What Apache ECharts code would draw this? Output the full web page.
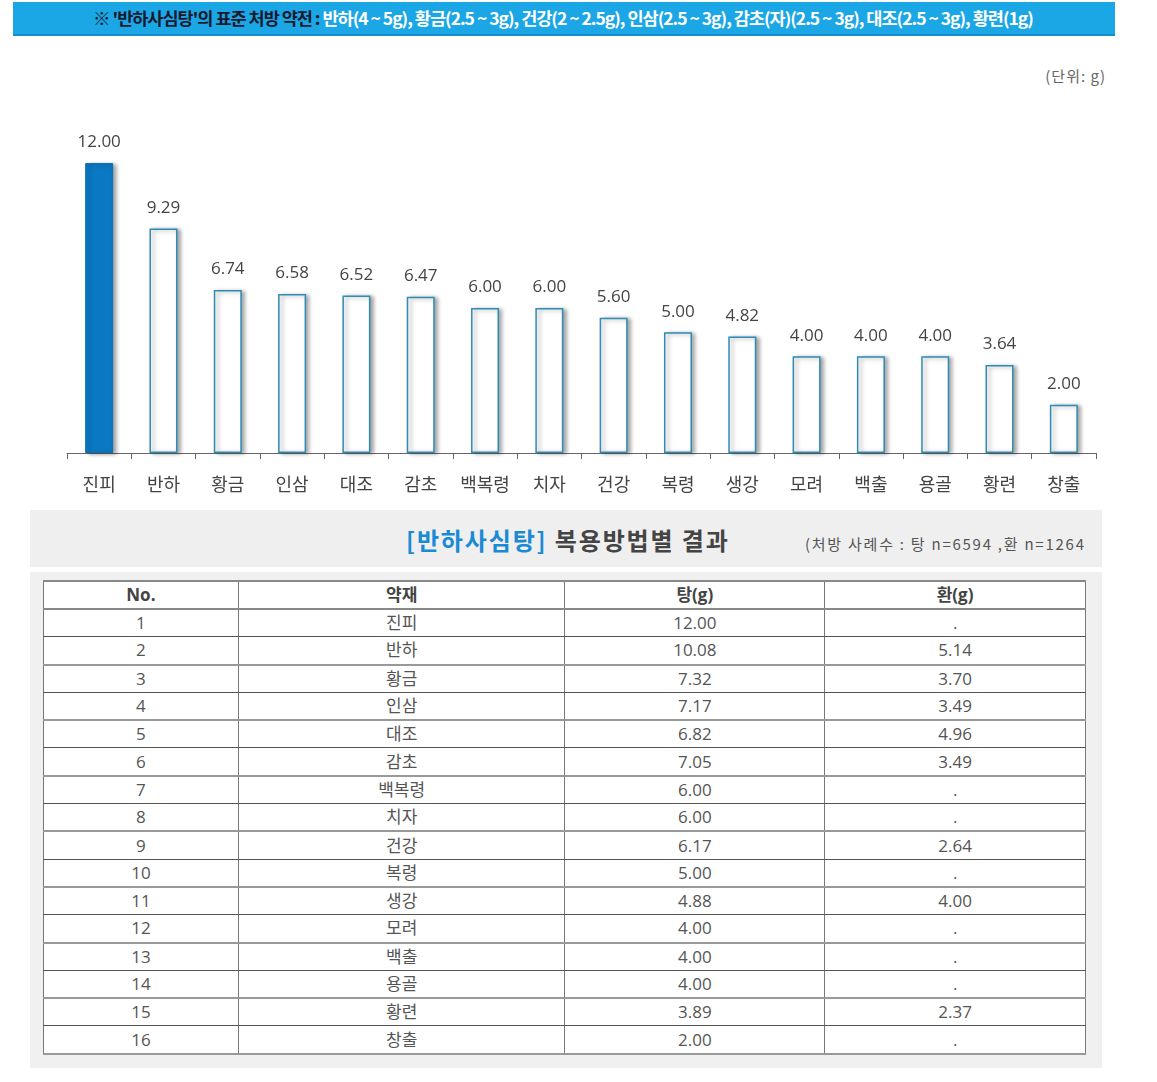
<!DOCTYPE html>
<html>
<head>
<meta charset="utf-8">
<script src="https://cdn.jsdelivr.net/npm/echarts@6/dist/echarts.min.js"></script>
<style>
  html, body { margin:0; padding:0; background:#fff; width:1157px; height:1082px; overflow:hidden;
    font-family:"Open Sans","Noto Sans CJK KR",sans-serif; }
  #banner { position:absolute; left:13px; top:2px; width:1102px; height:34px; background:#1ba6e5;
    border-bottom:2px solid #1590cc; box-sizing:border-box; }
  #bannerText { position:absolute; left:80px; top:6px; white-space:nowrap; font-family:"Noto Sans CJK KR",sans-serif;
    font-weight:bold; font-size:17px; line-height:20px; color:#fff; transform-origin:0 0; letter-spacing:-1px; display:inline-block; }
  #bannerText .dark { color:#1a1a2e; }
  #unit { position:absolute; right:51px; top:65px; font-size:15px; letter-spacing:1px; color:#666; font-family:"Noto Sans CJK KR",sans-serif; }
  #chart { position:absolute; left:0; top:100px; width:1157px; height:405px; }
  #titleBand { position:absolute; left:30px; top:510px; width:1072px; height:57px; background:#efefef; }
  #title { position:absolute; left:376px; top:12px; font-family:"Noto Sans CJK KR",sans-serif; font-weight:bold;
    font-size:24px; color:#444; white-space:nowrap; letter-spacing:1.85px; }
  #title .blue { color:#1a8ad4; }
  #sub { position:absolute; left:775px; top:23px; font-family:"Noto Sans CJK KR",sans-serif; font-size:15px; letter-spacing:1.75px; color:#555; white-space:nowrap; }
  #tablePanel { position:absolute; left:30px; top:572px; width:1072px; height:496px; background:#f0f0f0; }
  table { position:absolute; left:13px; top:8px; width:1043px; border-collapse:collapse; background:#fff;
    font-family:"Open Sans","Noto Sans CJK KR",sans-serif; }
  th, td { height:26.3px; padding:0; text-align:center; border-left:1px solid #777; border-right:1px solid #777;
    border-bottom:1px solid #555; font-size:17px; color:#555; line-height:18px; }
  th { font-weight:bold; font-size:17px; color:#444; border-top:2px solid #888; border-bottom:2px solid #888; height:26px; }
  td { font-weight:normal; }
  tr.alt td { border-bottom:2px solid #999; }
</style>
</head>
<body>
<div id="banner"><div id="bannerText"><span class="dark">※ '반하사심탕'의 표준 처방 약전 : </span>반하(4 ~ 5g), 황금(2.5 ~ 3g), 건강(2 ~ 2.5g), 인삼(2.5 ~ 3g), 감초(자)(2.5 ~ 3g), 대조(2.5 ~ 3g), 황련(1g)</div></div>
<div id="unit">(단위: g)</div>
<div id="chart"></div>
<div id="titleBand"><div id="title"><span class="blue">[반하사심탕]</span> 복용방법별 결과</div>
  <div id="sub">(처방 사례수 : 탕 n=6594 ,환 n=1264</div></div>
<div id="tablePanel"><table id="tbl"></table></div>
<script>
// ---- data ----
const categories = ['진피','반하','황금','인삼','대조','감초','백복령','치자','건강','복령','생강','모려','백출','용골','황련','창출'];
const chartValues = [12.00, 9.29, 6.74, 6.58, 6.52, 6.47, 6.00, 6.00, 5.60, 5.00, 4.82, 4.00, 4.00, 4.00, 3.64, 2.00];
const tableHeaders = ['No.', '약재', '탕(g)', '환(g)'];
const tangValues = [12.00, 10.08, 7.32, 7.17, 6.82, 7.05, 6.00, 6.00, 6.17, 5.00, 4.88, 4.00, 4.00, 4.00, 3.89, 2.00];
const hwanValues = [null, 5.14, 3.70, 3.49, 4.96, 3.49, null, null, 2.64, null, 4.00, null, null, null, 2.37, null];

// ---- banner fit ----
(function(){
  const el = document.getElementById('bannerText');
  const w = el.offsetWidth;
  const target = 940;
  el.style.transform = 'scaleX(' + (target / w) + ')';
})();

// ---- chart ----
const chart = echarts.init(document.getElementById('chart'), null, { renderer: 'canvas' });
const barData = chartValues.map((v, i) => ({
  value: v,
  itemStyle: i === 0
    ? { color: '#0a78c2', borderColor: '#0a6fb3', borderWidth: 1 }
    : { color: '#ffffff', borderColor: '#2f8cb4', borderWidth: 1.5 }
}));
chart.setOption({
  animation: false,
  grid: { left: 67, right: 61, top: 63, bottom: 52 },
  xAxis: {
    type: 'category', data: categories,
    axisLine: { lineStyle: { color: '#666', width: 1 } },
    axisTick: { show: true, length: 6, interval: 0, lineStyle: { color: '#666' } },
    axisLabel: { interval: 0, fontSize: 18, color: '#444', margin: 22, fontFamily: '"Noto Sans CJK KR", sans-serif' }
  },
  yAxis: { type: 'value', min: 0, max: 12, show: false, splitLine: { show: false } },
  series: [{
    type: 'bar', data: barData, barWidth: 28,
    itemStyle: { shadowColor: 'rgba(0,0,0,0.35)', shadowBlur: 4, shadowOffsetX: 3, shadowOffsetY: 1 },
    label: {
      show: true, position: 'top', distance: 12, fontSize: 17, color: '#444',
      fontFamily: '"Open Sans", sans-serif',
      formatter: p => p.value.toFixed(2)
    }
  }]
});

// ---- table ----
const tbl = document.getElementById('tbl');
let html = '<colgroup><col style="width:195px"><col style="width:327px"><col style="width:260px"><col style="width:261px"></colgroup>';
html += '<tr>' + tableHeaders.map(h => '<th>' + h + '</th>').join('') + '</tr>';
categories.forEach((c, i) => {
  html += '<tr' + (i % 2 === 1 ? ' class="alt"' : '') + '><td>' + (i + 1) + '</td><td>' + c + '</td><td>' +
    tangValues[i].toFixed(2) + '</td><td>' + (hwanValues[i] == null ? '.' : hwanValues[i].toFixed(2)) + '</td></tr>';
});
tbl.innerHTML = html;
</script>
</body>
</html>
